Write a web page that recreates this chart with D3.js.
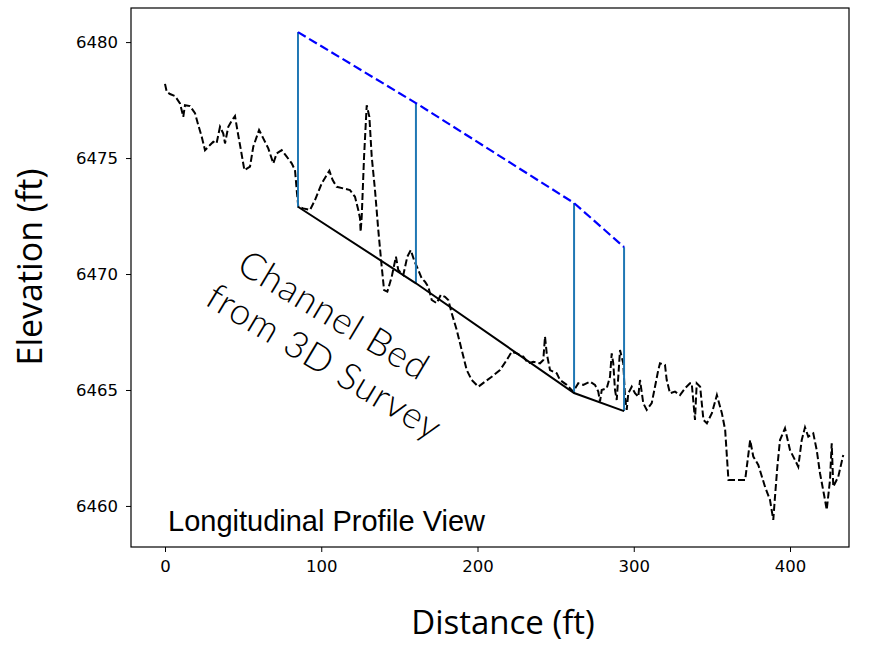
<!DOCTYPE html>
<html>
<head>
<meta charset="utf-8">
<script src="https://cdn.jsdelivr.net/npm/d3@7"></script>
<style>
  body { margin: 0; background: #fff; }
  svg { display: block; }
</style>
</head>
<body>
<div id="chart"></div>
<script>
// surveyed thalweg profile (ft)
var profileDist = [0, 1.1, 3.2, 6.4, 9.6, 11.7, 12.8, 16, 19.2, 21.3, 23.5, 25.6, 28.8, 30.9, 33, 35.2, 37.3, 38.4, 40.5, 43,
  44.8, 46.5, 48.6, 50.8, 54.4, 56.5, 60.2, 62.9, 66.1, 69.3, 71.5, 74.7, 77.9, 81.1, 83.2, 84.3, 85.3, 88.5, 92.8, 96,
  100.3, 103.5, 105.2, 107.3, 109.9, 114.1, 118.4, 121.6, 123.7, 124.8, 125.2, 125.9, 127.4, 129.1, 130.8, 132.3, 134.4, 136.5, 138.7, 140.2,
  142.3, 145.1, 147.8, 149.3, 152.5, 155.1, 157.3, 159.4, 162.1, 164.3, 166.4, 168.5, 170.7, 173.9, 176.5, 179.2, 181.3, 183.5, 186.7, 189.9,
  193.1, 196.3, 200.5, 204.8, 209.1, 214.4, 218.7, 221.9, 225.1, 229.3, 232.5, 235.7, 240, 242.1, 243.2, 244.3, 246.4, 250.7, 252.8, 257.1,
  261.3, 264.5, 267.7, 272, 275.2, 277.3, 278.4, 279.5, 282.7, 284.8, 285.9, 286.9, 288, 289.1, 290.1, 291.2, 293.3, 294.4, 295.5, 296.5,
  298.7, 300.8, 302.9, 304, 306.1, 308.3, 311.5, 313.6, 315.7, 316.8, 320, 321.1, 323.2, 326.4, 329.6, 332.8, 336, 337.1, 339.2, 340.3,
  342.5, 344.6, 346.8, 350, 353.2, 356.4, 358.5, 360.6, 367, 371.3, 374.5, 376.5, 379.7, 384, 387.2, 389.3, 390.4, 391.9, 393.6, 396.8,
  400, 403.2, 405.3, 407.5, 409.6, 411.7, 414.9, 417.1, 419.2, 422.4, 423.5, 425.6, 426.7, 427.7, 430.9, 434.1];
var profileElev = [6478.2, 6477.86, 6477.76, 6477.67, 6477.36, 6476.78, 6477.28, 6477.24, 6476.94, 6476.42, 6475.92, 6475.34, 6475.56, 6475.7, 6475.63, 6476.35, 6476.06, 6475.63, 6476.35, 6476.64,
  6476.81, 6476.13, 6475.34, 6474.48, 6474.63, 6475.49, 6476.21, 6475.85, 6475.42, 6474.77, 6475.2, 6475.34, 6475.06, 6474.77, 6474.48, 6473.62, 6472.9, 6472.83, 6472.76, 6473.19,
  6473.91, 6474.27, 6474.45, 6474.05, 6473.76, 6473.69, 6473.62, 6473.33, 6472.76, 6472.4, 6471.82, 6472.47, 6475.06, 6477.28, 6476.78, 6475.06, 6473.62, 6471.9, 6470.31, 6469.31,
  6469.24, 6469.88, 6470.75, 6470.17, 6469.96, 6470.75, 6471.03, 6470.6, 6470.17, 6469.81, 6469.67, 6469.45, 6468.88, 6468.74, 6469.1, 6469.02, 6468.88, 6468.31, 6467.59, 6466.72,
  6465.86, 6465.43, 6465.14, 6465.36, 6465.57, 6465.86, 6466.29, 6466.65, 6466.58, 6466.44, 6466.15, 6466.22, 6466.15, 6466.29, 6467.3, 6466.58, 6465.86, 6465.72, 6465.43, 6465.22,
  6464.93, 6465.29, 6465.22, 6465.36, 6465.22, 6464.93, 6464.5, 6465.0, 6465.07, 6465.57, 6466.58, 6466.15, 6465.0, 6464.57, 6465.57, 6466.72, 6466.15, 6464.71, 6464.14, 6464.86,
  6465.14, 6464.86, 6464.71, 6465.43, 6464.43, 6464.14, 6464.43, 6465.14, 6465.86, 6466.15, 6466.08, 6465.43, 6464.86, 6464.93, 6464.78, 6465.07, 6465.29, 6465.29, 6463.71, 6465.29,
  6465.14, 6463.71, 6463.56, 6464.0, 6464.78, 6464.0, 6463.28, 6461.12, 6461.12, 6461.12, 6462.84, 6462.13, 6461.77, 6460.83, 6460.26, 6459.4, 6460.4, 6461.69, 6462.84, 6463.35,
  6462.41, 6461.98, 6461.69, 6462.84, 6463.39, 6462.99, 6463.13, 6462.41, 6461.41, 6460.26, 6459.83, 6461.12, 6462.7, 6460.83, 6461.26, 6462.2];

// cross sections: channel bed and water surface
var sectionDist = [85.1, 160.6, 261.8, 293.8];
var bedElev = [6472.9, 6469.6, 6464.87, 6464.09];
var wsElev = [6480.43, 6477.37, 6473.06, 6471.16];

var xTicks = [0, 100, 200, 300, 400];
var yTicks = [6460, 6465, 6470, 6475, 6480];

var chart_width = 879;
var chart_height = 645;
// plot box in pixels (note: "top" is a reserved global in browsers)
var plotLeft = 131, plotRight = 849, plotTop = 8, plotBottom = 547;

var svg = d3.select('#chart')
  .append('svg')
  .attr('width', chart_width)
  .attr('height', chart_height);

var x_scale = d3.scaleLinear()
  .domain([-21.76, 437.76])
  .range([plotLeft, plotRight]);
var y_scale = d3.scaleLinear()
  .domain([6458.23, 6481.47])
  .range([plotBottom, plotTop]);

var profile = profileDist.map(function(d, i) { return [d, profileElev[i]]; });
var bed = sectionDist.map(function(d, i) { return [d, bedElev[i]]; });
var ws = sectionDist.map(function(d, i) { return [d, wsElev[i]]; });

var line = d3.line()
  .x(function(d) { return x_scale(d[0]); })
  .y(function(d) { return y_scale(d[1]); });

// profile (dashed black)
svg.append('path')
  .datum(profile)
  .attr('d', line)
  .attr('fill', 'none')
  .attr('stroke', '#000')
  .attr('stroke-width', 2)
  .attr('stroke-dasharray', '7,3');

// vertical section lines
svg.selectAll('line.sect')
  .data(sectionDist)
  .enter()
  .append('line')
  .attr('class', 'sect')
  .attr('x1', function(d) { return x_scale(d); })
  .attr('x2', function(d) { return x_scale(d); })
  .attr('y1', function(d, i) { return y_scale(bedElev[i]); })
  .attr('y2', function(d, i) { return y_scale(wsElev[i]); })
  .attr('stroke', '#1f77b4')
  .attr('stroke-width', 2);

// channel bed
svg.append('path')
  .datum(bed)
  .attr('d', line)
  .attr('fill', 'none')
  .attr('stroke', '#000')
  .attr('stroke-width', 2);

// water surface
svg.append('path')
  .datum(ws)
  .attr('d', line)
  .attr('fill', 'none')
  .attr('stroke', '#0000ff')
  .attr('stroke-width', 2.2)
  .attr('stroke-dasharray', '9,4');

// axes
var xAxis = svg.append('g')
  .attr('transform', 'translate(0,' + plotBottom + ')')
  .call(d3.axisBottom(x_scale).tickValues(xTicks).tickSize(5).tickPadding(8).tickSizeOuter(0));
var yAxis = svg.append('g')
  .attr('transform', 'translate(' + plotLeft + ',0)')
  .call(d3.axisLeft(y_scale).tickValues(yTicks).tickFormat(d3.format('d')).tickSize(5).tickPadding(8).tickSizeOuter(0));
[xAxis, yAxis].forEach(function(a) {
  a.select('.domain').remove();
  a.attr('font-family', 'DejaVu Sans');
  a.selectAll('text').style('font-size', '16.5px').attr('fill', '#000');
  a.selectAll('line').attr('stroke', '#000');
});

svg.append('rect')
  .attr('x', plotLeft)
  .attr('y', plotTop)
  .attr('width', plotRight - plotLeft)
  .attr('height', plotBottom - plotTop)
  .attr('fill', 'none')
  .attr('stroke', '#000')
  .attr('stroke-width', 1.2);

// titles
svg.append('text')
  .text('Distance (ft)')
  .attr('x', 503)
  .attr('y', 634)
  .attr('text-anchor', 'middle')
  .attr('font-family', 'Open Sans')
  .attr('font-size', 33);
svg.append('text')
  .text('Elevation (ft)')
  .attr('transform', 'translate(42,267) rotate(-90)')
  .attr('text-anchor', 'middle')
  .attr('font-family', 'Open Sans')
  .attr('font-size', 34);

svg.append('text')
  .text('Longitudinal Profile View')
  .attr('x', 168)
  .attr('y', 531)
  .attr('font-family', 'Liberation Sans')
  .attr('font-size', 29);

var note = svg.append('g')
  .attr('transform', 'translate(334,315) rotate(31)')
  .attr('font-family', 'Lato')
  .attr('font-weight', 300)
  .attr('font-size', 37)
  .attr('letter-spacing', 1)
  .attr('text-anchor', 'middle');
note.append('text').text('Channel Bed').attr('x', 0).attr('y', 0).attr('dy', '0.35em');
note.append('text').text('from 3D Survey').attr('x', 16).attr('y', 45).attr('dy', '0.35em');
</script>
</body>
</html>
